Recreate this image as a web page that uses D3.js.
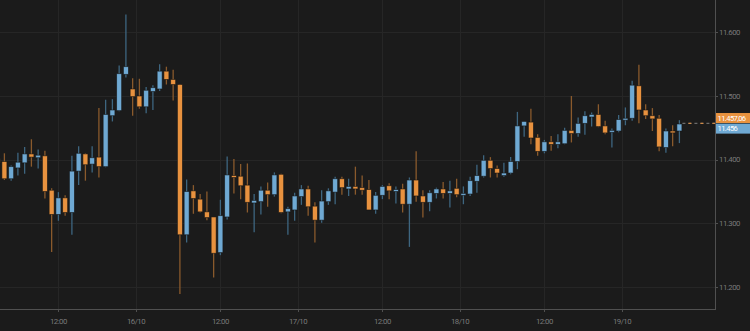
<!DOCTYPE html>
<html>
<head>
<meta charset="utf-8">
<script src="https://cdn.jsdelivr.net/npm/d3@7"></script>
<style>
  html, body { margin: 0; padding: 0; background: #1b1b1b; }
  svg { display: block; }
  text { font-family: Roboto, "Noto Sans", sans-serif; letter-spacing: -0.5px; }
</style>
</head>
<body>
<svg id="chart" width="750" height="331"></svg>
<script>
// Hourly candles, oldest first
const opens = [11402,
  11397,11370,11387,11395,11409,11403,11406,11352,11314,11340,
  11317,11382,11409,11393,11404,11389,11469,11477,11534,11511,
  11500,11483,11507,11511,11539,11526,11518,11282,11351,11338,
  11318,11310,11254,11310,11375,11374,11360,11332,11334,11352,
  11345,11377,11318,11321,11342,11354,11327,11305,11334,11349,
  11370,11354,11358,11356,11353,11321,11344,11359,11350,11354,
  11330,11368,11343,11333,11347,11354,11347,11355,11344,11346,
  11366,11374,11399,11386,11375,11379,11397,11453,11459,11435,
  11413,11428,11424,11425,11446,11441,11457,11467,11471,11453,
  11443,11445,11462,11465,11516,11478,11469,11465,11419,11445,
  11445];
const highs = [11410,
  11410,11391,11411,11420,11432,11416,11414,11355,11349,11344,
  11406,11421,11410,11421,11481,11494,11495,11548,11628,11528,
  11527,11514,11517,11550,11546,11541,11519,11369,11360,11346,
  11350,11310,11337,11405,11401,11393,11394,11346,11358,11364,
  11380,11378,11326,11348,11360,11359,11333,11352,11355,11373,
  11373,11370,11389,11375,11368,11349,11360,11363,11358,11362,
  11372,11413,11352,11352,11356,11365,11367,11370,11358,11373,
  11392,11407,11404,11391,11395,11404,11475,11460,11480,11440,
  11431,11437,11440,11450,11500,11466,11476,11474,11487,11461,
  11449,11470,11482,11524,11549,11487,11481,11470,11449,11454,
  11462];
const lows = [11390,
  11368,11367,11375,11378,11389,11386,11339,11255,11304,11312,
  11282,11360,11367,11380,11372,11388,11460,11476,11529,11469,
  11480,11473,11478,11508,11518,11493,11189,11270,11315,11317,
  11305,11215,11250,11306,11347,11338,11317,11286,11314,11326,
  11342,11316,11282,11304,11329,11312,11270,11301,11329,11330,
  11345,11343,11345,11345,11321,11315,11338,11338,11331,11317,
  11263,11334,11309,11319,11339,11339,11325,11341,11330,11343,
  11348,11372,11372,11372,11373,11377,11385,11436,11424,11406,
  11410,11414,11418,11424,11427,11436,11439,11452,11451,11440,
  11419,11443,11454,11461,11457,11464,11445,11413,11411,11421,
  11426];
const closes = [11395,
  11370,11389,11396,11409,11404,11407,11350,11314,11340,11317,
  11382,11410,11392,11403,11389,11471,11478,11535,11546,11499,
  11483,11509,11513,11539,11526,11518,11282,11350,11339,11318,
  11309,11253,11312,11376,11372,11359,11333,11336,11352,11345,
  11376,11317,11323,11343,11354,11326,11305,11335,11351,11370,
  11356,11358,11354,11352,11321,11344,11358,11351,11353,11330,
  11368,11343,11333,11348,11354,11347,11351,11345,11347,11367,
  11375,11399,11386,11379,11379,11397,11453,11460,11434,11413,
  11428,11424,11428,11446,11441,11457,11469,11471,11452,11442,
  11446,11463,11465,11517,11478,11469,11464,11420,11445,11442,
  11456];

// Time axis labels, placed at candle positions
const timeTickPos = [9, 20.5, 33, 44.5, 57, 68.5, 81, 92.5];
const timeTickLabels = ["12:00", "16/10", "12:00", "17/10", "12:00", "18/10", "12:00", "19/10"];
const priceTicks = [11200, 11300, 11400, 11500, 11600];
const currentPrice = 11457.06;

const candles = opens.map((o, i) => ({ i, o, h: highs[i], l: lows[i], c: closes[i] }));

const W = 750, H = 331;
const plotRight = 715, plotBottom = 309;

const locale = d3.formatLocale({ decimal: ",", thousands: ".", grouping: [3], currency: ["", ""] });
const fmtInt = locale.format(",.0f");
const fmtDec = locale.format(",.2f");

const x = d3.scaleLinear().domain([0, 101]).range([-2.35, 679.4]);
const y = d3.scaleLinear().domain([11200, 11600]).range([287, 32.3]);

const UP_BODY = "#6fa9d3", UP_WICK = "#3e6680";
const DN_BODY = "#e8923f", DN_WICK = "#8a5a2c";

const svg = d3.select("#chart");
svg.append("rect").attr("width", W).attr("height", H).attr("fill", "#1b1b1b");

const defs = svg.append("defs");
defs.append("clipPath").attr("id", "plotClip")
  .append("rect").attr("x", 0).attr("y", 0).attr("width", plotRight).attr("height", plotBottom);

// grid
const grid = svg.append("g");
grid.selectAll("line.h").data(priceTicks).join("line")
  .attr("x1", 0).attr("x2", plotRight)
  .attr("y1", d => Math.round(y(d)) + 0.5).attr("y2", d => Math.round(y(d)) + 0.5)
  .attr("stroke", "#262626").attr("stroke-width", 1);
grid.selectAll("line.v").data(timeTickPos).join("line")
  .attr("y1", 0).attr("y2", plotBottom)
  .attr("x1", d => Math.round(x(d)) + 0.5).attr("x2", d => Math.round(x(d)) + 0.5)
  .attr("stroke", "#262626").attr("stroke-width", 1);

// candles
const plot = svg.append("g").attr("clip-path", "url(#plotClip)");
const bodyW = 5;
const g = plot.selectAll("g.candle").data(candles).join("g");
g.append("line")
  .attr("x1", d => x(d.i)).attr("x2", d => x(d.i))
  .attr("y1", d => y(d.h)).attr("y2", d => y(d.l))
  .attr("stroke", d => d.c >= d.o ? UP_WICK : DN_WICK)
  .attr("stroke-width", 1.3);
g.append("rect")
  .attr("x", d => x(d.i) - bodyW / 2)
  .attr("y", d => y(Math.max(d.o, d.c)))
  .attr("width", bodyW)
  .attr("height", d => Math.max(1.5, Math.abs(y(d.o) - y(d.c))))
  .attr("fill", d => d.c >= d.o ? UP_BODY : DN_BODY)
  .attr("stroke", "#141414").attr("stroke-opacity", 0.7).attr("stroke-width", 0.8);

// last price line
const last = candles[candles.length - 1];
const py = y(currentPrice);
svg.append("line")
  .attr("x1", x(last.i) + 3).attr("x2", plotRight)
  .attr("y1", py).attr("y2", py)
  .attr("stroke", "#6b6b6b").attr("stroke-width", 1.2).attr("stroke-dasharray", "3,3");
svg.append("line")
  .attr("x1", x(last.i) + 9).attr("x2", plotRight)
  .attr("y1", py).attr("y2", py)
  .attr("stroke", DN_BODY).attr("stroke-opacity", 0.8).attr("stroke-width", 1.2).attr("stroke-dasharray", "3,9");

// axes frame
svg.append("line").attr("x1", plotRight + 0.5).attr("x2", plotRight + 0.5).attr("y1", 0).attr("y2", plotBottom + 1)
  .attr("stroke", "#505050");
svg.append("line").attr("x1", 0).attr("x2", plotRight + 1).attr("y1", plotBottom + 0.5).attr("y2", plotBottom + 0.5)
  .attr("stroke", "#505050");

// price axis
const yAxis = svg.append("g");
yAxis.selectAll("line").data(priceTicks).join("line")
  .attr("x1", plotRight).attr("x2", plotRight + 3)
  .attr("y1", d => Math.round(y(d)) + 0.5).attr("y2", d => Math.round(y(d)) + 0.5)
  .attr("stroke", "#505050");
yAxis.selectAll("text").data(priceTicks).join("text")
  .attr("x", plotRight + 4).attr("y", d => y(d))
  .attr("dy", "0.35em")
  .attr("font-size", 7.8).attr("fill", "#7a7a7a")
  .text(d => fmtInt(d));

// time axis
const xAxis = svg.append("g");
xAxis.selectAll("line").data(timeTickPos).join("line")
  .attr("x1", d => Math.round(x(d)) + 0.5).attr("x2", d => Math.round(x(d)) + 0.5)
  .attr("y1", plotBottom).attr("y2", plotBottom + 3)
  .attr("stroke", "#505050");
xAxis.selectAll("text").data(timeTickPos).join("text")
  .attr("x", d => x(d)).attr("y", 321)
  .attr("dy", "0.35em").attr("text-anchor", "middle")
  .attr("font-size", 7.8).attr("fill", "#7a7a7a")
  .text((d, i) => timeTickLabels[i]);

// price badges
const badges = [
  { v: currentPrice, text: fmtDec(currentPrice), fill: DN_BODY, dy: -5.3 },
  { v: last.c, text: fmtInt(last.c), fill: UP_BODY, dy: 5.3 }
];
const bg = svg.append("g").selectAll("g").data(badges).join("g")
  .attr("transform", d => `translate(${plotRight + 1},${y(currentPrice) + d.dy})`);
bg.append("rect").attr("x", 0).attr("y", -5).attr("width", W - plotRight - 1).attr("height", 10)
  .attr("fill", d => d.fill);
bg.append("text").attr("x", 1.5).attr("y", 0).attr("dy", "0.35em")
  .attr("font-size", 7.6).attr("fill", "#ffffff")
  .style("letter-spacing", "-0.6px")
  .text(d => d.text);
</script>
</body>
</html>
